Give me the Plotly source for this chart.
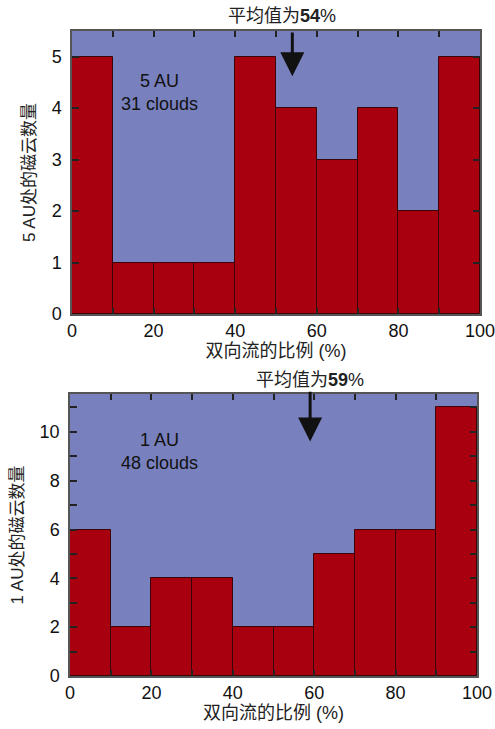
import plotly.graph_objects as go

bin_centers = [5, 15, 25, 35, 45, 55, 65, 75, 85, 95]
counts_5au = [5, 1, 1, 1, 5, 4, 3, 4, 2, 5]
counts_1au = [6, 2, 4, 4, 2, 2, 5, 6, 6, 11]
mean_5au = 54
mean_1au = 59
x_ticks = [0, 20, 40, 60, 80, 100]

W, H = 495, 729
BG = "#7880BE"
BAR = "#A8000E"
FONT = "Liberation Sans, Arial, Noto Sans CJK SC, sans-serif"

fig = go.Figure()
fig.add_trace(go.Bar(x=bin_centers, y=counts_5au, width=10, marker=dict(color=BAR, line=dict(color="#3a0508", width=1)),
                     xaxis="x", yaxis="y", showlegend=False))
fig.add_trace(go.Bar(x=bin_centers, y=counts_1au, width=10, marker=dict(color=BAR, line=dict(color="#3a0508", width=1)),
                     xaxis="x2", yaxis="y2", showlegend=False))

def xax(domain, anchor):
    return dict(domain=domain, anchor=anchor, range=[0, 100], tickvals=x_ticks, ticktext=[str(v) for v in x_ticks],
                ticks="inside", ticklen=6, tickcolor="#222", tickwidth=1.5,
                minor=dict(dtick=10, ticks="inside", ticklen=6, tickcolor="#222"),
                showline=True, linecolor="#555", linewidth=1.5, mirror="ticks", showgrid=False, zeroline=False,
                automargin=False, ticklabelstandoff=0, ticklabeloverflow="allow",
                tickfont=dict(size=18, color="#111", family=FONT),
                title=dict(text="双向流的比例 (%)", font=dict(size=18, color="#222", family=FONT), standoff=2))

def yax(domain, anchor, rng, dtick, minor, title):
    d = dict(domain=domain, anchor=anchor, range=rng, dtick=dtick, ticks="inside", ticklen=7, tickcolor="#222",
             tickwidth=1.5, showline=True, linecolor="#555", linewidth=1.5, mirror="ticks", showgrid=False,
             zeroline=False, automargin=False, ticklabelstandoff=5, ticklabeloverflow="allow",
             tickfont=dict(size=18, color="#111", family=FONT),
             title=dict(text=title, font=dict(size=17, color="#222", family=FONT), standoff=12))
    if minor:
        d["minor"] = dict(dtick=minor, ticks="inside", ticklen=7, tickcolor="#222")
    return d

fig.update_layout(
    width=W, height=H, margin=dict(l=0, r=0, t=0, b=0),
    paper_bgcolor="white", plot_bgcolor=BG, bargap=0,
    xaxis=xax([72 / W, 480 / W], "y"),
    yaxis=yax([1 - 314 / H, 1 - 31 / H], "x", [0, 5.5], 1, None, "5 AU处的磁云数量"),
    xaxis2=xax([70 / W, 477 / W], "y2"),
    yaxis2=yax([1 - 676 / H, 1 - 394 / H], "x2", [0, 11.55], 2, 1, "1 AU处的磁云数量"),
    font=dict(family=FONT),
)

ann = []
# arrows
ann.append(dict(x=mean_5au, y=4.62, ax=mean_5au, ay=5.5, xref="x", yref="y", axref="x", ayref="y",
                showarrow=True, arrowhead=2, arrowsize=1.6, arrowwidth=3, arrowcolor="#111", text=""))
ann.append(dict(x=mean_1au, y=9.6, ax=mean_1au, ay=11.7, xref="x2", yref="y2", axref="x2", ayref="y2",
                showarrow=True, arrowhead=2, arrowsize=1.6, arrowwidth=3, arrowcolor="#111", text=""))
# mean labels
ann.append(dict(x=51.5, y=1 - 16 / H, xref="x", yref="paper", yanchor="middle", showarrow=False,
                text="平均值为<b>%d</b>%%" % mean_5au, font=dict(size=18, color="#222", family=FONT)))
ann.append(dict(x=59, y=1 - 380 / H, xref="x2", yref="paper", yanchor="middle", showarrow=False,
                text="平均值为<b>%d</b>%%" % mean_1au, font=dict(size=18, color="#222", family=FONT)))
# cloud labels
ann.append(dict(x=21.5, y=4.3, xref="x", yref="y", showarrow=False,
                text="5 AU<br>31 clouds", font=dict(size=18, color="#111", family=FONT)))
ann.append(dict(x=22, y=9.2, xref="x2", yref="y2", showarrow=False,
                text="1 AU<br>48 clouds", font=dict(size=18, color="#111", family=FONT)))
fig.update_layout(annotations=ann)

fig.write_html("out.html")
